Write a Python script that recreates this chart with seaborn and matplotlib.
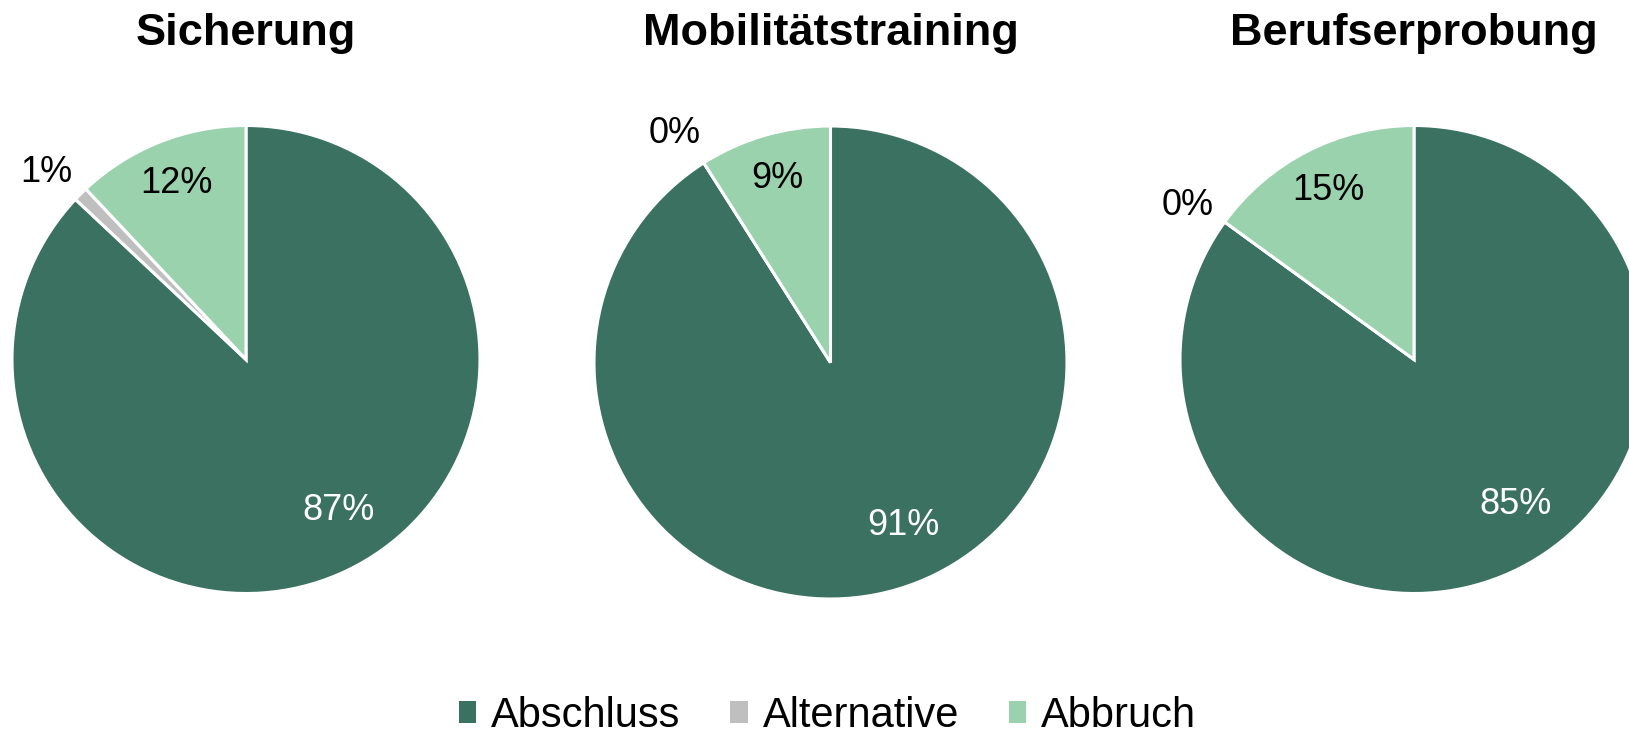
import numpy as np
import matplotlib
matplotlib.use("Agg")
import matplotlib.pyplot as plt
from matplotlib.patches import Patch
import seaborn as sns

sns.set_theme(style="white")
plt.rcParams['font.family'] = ['Liberation Sans', 'DejaVu Sans']

# ---- data ----
titles = ["Sicherung", "Mobilitätstraining", "Berufserprobung"]
categories = ["Abschluss", "Alternative", "Abbruch"]
sicherung = [87, 1, 12]
mobilitaet = [91, 0, 9]
beruf = [85, 0, 15]
series = [sicherung, mobilitaet, beruf]
colors = ["#3A7160", "#BFBFBF", "#9AD2AE"]
label_colors = ["white", "black", "black"]

W, H = 1629, 735
fig = plt.figure(figsize=(W / 100, H / 100), dpi=100)

# pie layout in pixels: center x, center y (from top), radius
layout = [(246, 359.5, 234), (830.5, 362.5, 236.5), (1414, 359.5, 234)]
lim = 1.3
label_r = [0.755, 1.17, 0.81]
angle_off = [8.0, 1.8, 0.0]

for vals, title, (cx, cy, r) in zip(series, titles, layout):
    size = 2 * lim * r
    ax = fig.add_axes([(cx - lim * r) / W, 1 - (cy + lim * r) / H, size / W, size / H])
    wedges, _ = ax.pie(vals, colors=colors, startangle=90, counterclock=False,
                       wedgeprops=dict(edgecolor="white", linewidth=2.2))
    ax.set_xlim(-lim, lim)
    ax.set_ylim(-lim, lim)
    ax.set_aspect("equal")
    ax.axis("off")
    for i, (w, v) in enumerate(zip(wedges, vals)):
        mid = np.deg2rad((w.theta1 + w.theta2) / 2 + angle_off[i])
        ax.text(label_r[i] * np.cos(mid), label_r[i] * np.sin(mid), f"{v}%",
                ha="center", va="center", fontsize=26, color=label_colors[i])
    fig.text(cx / W, 1 - 45 / H, title, ha="center", va="baseline",
             fontsize=32.5, fontweight="bold", color="black")

handles = [Patch(facecolor=c, edgecolor="none") for c in colors]
leg = fig.legend(handles, categories, loc="center", bbox_to_anchor=(0.508, 1 - 716 / H),
                 ncol=3, frameon=False, handlelength=0.42, handleheight=0.42,
                 handletextpad=0.35, columnspacing=1.2, labelcolor="black",
                 prop=dict(family=["Liberation Sans"], size=30))

fig.savefig("out.png", dpi=100, facecolor="white")
